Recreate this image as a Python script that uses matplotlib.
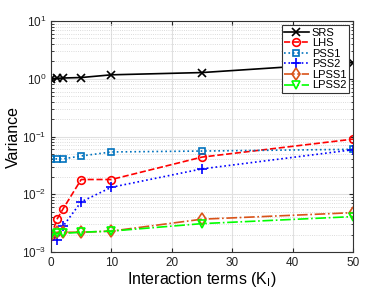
import numpy as np
import matplotlib
matplotlib.use("Agg")
import matplotlib.pyplot as plt

plt.rcParams['font.family'] = ['Liberation Sans', 'DejaVu Sans']
plt.rcParams['mathtext.fontset'] = 'custom'
plt.rcParams['mathtext.rm'] = 'Liberation Sans'
plt.rcParams['mathtext.it'] = 'Liberation Sans'

# interaction terms
k = [0, 1, 2, 5, 10, 25, 50]

srs = [1.0, 1.02, 1.03, 1.05, 1.17, 1.28, 1.9]
lhs = [0.0019, 0.0037, 0.0056, 0.018, 0.018, 0.044, 0.09]
pss1 = [0.041, 0.041, 0.041, 0.046, 0.054, 0.056, 0.06]
pss2 = [0.0021, 0.0016, 0.0028, 0.0074, 0.0132, 0.0275, 0.059]
lpss1 = [0.0020, 0.0022, 0.0022, 0.0022, 0.0023, 0.0037, 0.0048]
lpss2 = [0.0020, 0.0021, 0.0021, 0.0022, 0.0023, 0.0031, 0.0041]

fig = plt.figure(figsize=(3.9, 2.93), dpi=100)
ax = fig.add_axes([51/390, 1-252/293, 302/390, 231/293])

ax.plot(k, srs, '-x', color='k', lw=1.2, ms=6, mew=1.2, label='SRS')
ax.plot(k, lhs, '--o', color='r', lw=1.2, ms=5.5, mfc='none', mew=1.2, label='LHS')
ax.plot(k, pss1, ':s', color=(0, 0.447, 0.741), lw=1.2, ms=5, mfc='none', mew=1.2, label='PSS1')
ax.plot(k, pss2, ':+', color='b', lw=1.2, ms=7, mew=1.2, label='PSS2')
ax.plot(k, lpss1, '-.d', color=(0.85, 0.325, 0.098), lw=1.2, ms=6, mfc='none', mew=1.2, label='LPSS1')
ax.plot(k, lpss2, '-.v', color=(0, 1, 0), lw=1.2, ms=6, mfc='none', mew=1.2, label='LPSS2')

ax.set_yscale('log')
ax.set_ylim(1e-3, 1e1)
ax.set_xlim(0, 50)
ax.set_xticks([0, 10, 20, 30, 40, 50])

ax.grid(True, which='major', color='#e0e0e0', lw=0.8, ls='-')
ax.grid(True, which='minor', color='#d0d0d0', lw=0.6, ls=':')
ax.set_axisbelow(True)

for s in ax.spines.values():
    s.set_color('#333333')
    s.set_linewidth(0.8)
ax.tick_params(which='both', direction='in', top=True, right=True, labelsize=8.5, colors='#222222')
ax.tick_params(which='major', length=3)
ax.tick_params(which='minor', length=1.8)

ax.set_xlabel(r'Interaction terms (K$_{\rm I}$)', fontsize=11.5, labelpad=1)
ax.set_ylabel('Variance', fontsize=11.5, labelpad=1)

leg = ax.legend(loc='upper right', fontsize=8, frameon=True, fancybox=False,
                edgecolor='#333333', framealpha=1, borderpad=0.2, labelspacing=0.05,
                handlelength=2.2, handletextpad=0.3, borderaxespad=0.4)
leg.get_frame().set_linewidth(0.8)

fig.savefig('out.png', dpi=100)
